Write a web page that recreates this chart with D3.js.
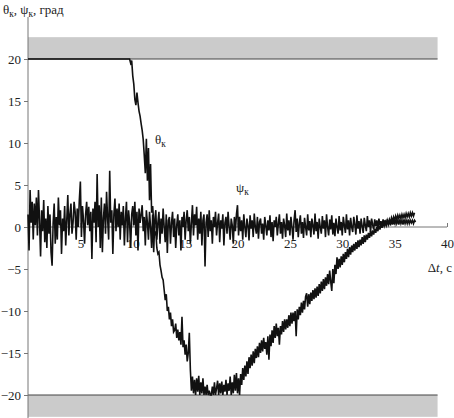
<!DOCTYPE html>
<html>
<head>
<meta charset="utf-8">
<script src="https://cdn.jsdelivr.net/npm/d3@7"></script>
<style>
  html, body { margin: 0; padding: 0; background: #fff; }
</style>
</head>
<body>
<svg id="chart" width="454" height="418" style="font-family: 'DejaVu Serif', serif;"></svg>
<script>
// ---- data ----
const xTicks = [5, 10, 15, 20, 25, 30, 35, 40];
const yTicks = [-20, -15, -10, -5, 0, 5, 10, 15, 20];
const limitBands = [[20, 22.6], [-22.6, -20]];
const bandEnd = 39.1;
const dt = 0.1;
const psiStart = 0;
const psi = [
  1.5, -2.8, 4.4, 0.5, 3.0, -1.5, 2.8, 0.2, 3.5, -1.0,
  4.4, 0.8, -3.5, 2.0, -0.5, 3.2, -1.8, 1.0, -2.5, 2.5,
  -0.8, 1.5, -3.0, -4.6, 0.5, 2.8, -2.0, 1.2, -1.5, 3.5,
  0.2, 2.0, -3.2, 1.0, -0.5, 2.5, -2.2, 0.8, 3.8, -1.0,
  1.5, 2.8, -0.8, 0.5, 3.0, 1.8, -1.5, 2.2, 0.0, 3.2,
  5.4, -1.2, 2.5, 0.8, -2.0, 1.5, 3.0, 0.2, 2.4, -0.5,
  1.8, -3.8, 2.2, 0.5, 3.0, -1.8, 6.3, 0.0, 2.6, -2.5,
  3.5, -3.0, 1.0, 2.8, -0.8, 4.2, 1.0, -1.5, 6.7, 0.5,
  2.0, -3.2, 1.5, 3.4, -0.5, 2.2, 0.0, 2.8, -1.5, 1.8,
  0.2, 2.5, -2.2, 1.0, 3.0, -1.8, 2.0, 0.5, -2.5, 1.5,
  2.5, 0.2, 3.0, -1.0, 1.8, -2.8, 2.2, 0.5, 1.5, 2.6,
  -0.5, 1.2, -2.2, 2.0, 0.5, -1.5, 1.8, 0.0, -2.5, 1.5,
  -3.0, 0.8, 2.0, -1.5, 0.5, 1.8, -2.0, 1.0, -0.8, 2.2,
  0.0, -1.8, 1.5, -3.1, 0.8, 1.2, -2.0, 0.5, 1.8, -1.2,
  1.0, -2.5, 0.2, 1.5, -1.0, 0.8, -2.8, 1.2, 0.0, 1.8,
  -1.5, 0.8, 2.0, -0.5, 1.2, -2.0, 0.5, 2.6, -1.0, 1.5,
  0.2, 2.4, -1.5, 1.0, -0.8, 1.8, -2.2, 0.8, 1.5, -4.7,
  0.5, 1.5, -1.2, 2.0, -0.5, 0.8, -2.0, 1.2, 0.0, 1.8,
  -1.0, 0.5, 1.6, -1.8, 0.8, -0.2, 1.5, -2.2, 0.5, 1.2,
  -0.8, 1.8, 0.0, -1.5, 1.0, 0.2, -2.0, 1.2, -0.5, 1.5,
  2.6, -1.0, 1.2, -0.5, 0.8, -1.5, 1.5, 0.0, -1.2, 1.0,
  0.2, -1.6, 1.4, -0.2, 0.8, -1.2, 1.6, 0.0, -0.8, 1.2,
  -1.4, 0.6, 1.0, -0.8, 0.4, -1.5, 1.2, 0.2, -1.0, 0.8,
  -0.4, 1.4, -1.2, 0.6, -1.7, 0.8, 0.0, 1.2, -1.0, 0.4,
  1.5, -0.8, 0.6, -1.4, 1.0, 0.2, -1.2, 1.6, -0.4, 0.8,
  -1.0, 1.2, 0.0, -1.5, 0.8, 2.0, -0.6, 1.0, -1.2, 0.4,
  1.4, -0.8, 0.6, -1.3, 1.1, 0.0, -1.0, 1.5, -0.4, 0.7,
  -1.2, 1.0, 0.2, -0.9, 1.6, -0.5, 0.6, -1.4, 1.0, 0.0,
  -0.8, 1.3, -0.2, 0.8, -1.2, 1.5, 0.0, -1.0, 0.9, -0.3,
  1.4, -0.9, 0.5, -1.1, 1.0, 0.0, -0.8, 1.3, -0.4, 0.6,
  -1.0, 1.2, 0.2, -0.7, 1.5, -0.3, 0.8, -1.0, 1.1, 0.0,
  -0.6, 1.2, 0.3, -0.9, 1.4, -0.2, 0.7, -0.8, 1.0, 0.1,
  -0.7, 1.1, 0.2, -0.5, 1.3, 0.0, 0.8, -0.6, 1.0, 0.3,
  -0.3, 0.9, 0.1, 0.8, -0.2, 1.0, 0.2, 0.7, 0.0, 0.9,
  0.2, 0.8, 0.1, 0.9, 0.3, 0.7, 0.2, 0.9, 0.3, 0.8,
  0.3, 0.9, 0.4, 0.8, 0.3, 0.9, 0.4, 0.8, 0.3, 0.9,
  0.4, 0.8, 0.4, 0.9, 0.4, 0.8, 0.5, 0.8, 0.4, 0.8,
  0.6
];
const thetaHold = 20;      // value held from t = 0
const thetaStart = 9.6;
const theta = [
  20.0, 20.0, 19.5, 19.8, 18.0, 17.0, 15.2, 14.5, 16.0, 14.8,
  13.8, 13.2, 12.3, 11.5, 10.4, 8.5, 6.4, 10.5, 5.5, 9.4,
  3.2, 7.5, 1.7, 2.5, 0.5, -1.0, -0.5, -2.5, -3.2, -3.0,
  -4.5, -5.2, -6.0, -6.3, -7.5, -8.7, -8.0, -10.0, -9.5, -11.0,
  -10.2, -11.8, -11.0, -12.5, -12.3, -11.5, -13.2, -12.2, -13.5, -12.5,
  -14.0, -10.7, -14.3, -13.5, -15.2, -14.0, -16.0, -15.0, -12.6, -17.0,
  -19.5, -17.8, -19.8, -18.2, -20.0, -18.0, -19.6, -17.7, -20.0, -18.5,
  -19.8, -18.0, -20.0, -19.0, -20.0, -18.8, -20.0, -19.5, -20.0, -20.0,
  -19.0, -20.0, -18.5, -20.0, -19.2, -18.3, -20.0, -18.6, -19.8, -18.4,
  -20.0, -18.8, -19.6, -18.2, -20.0, -18.6, -19.5, -17.8, -20.0, -18.5,
  -19.8, -17.6, -19.5, -17.4, -19.8, -18.0, -20.0, -17.5, -18.8, -16.8,
  -18.2, -16.5, -17.8, -16.0, -17.5, -15.5, -16.8, -15.2, -16.5, -14.8,
  -16.2, -14.5, -15.6, -14.2, -15.5, -13.8, -15.0, -13.5, -14.8, -13.2,
  -14.5, -13.7, -15.2, -13.0, -15.8, -12.8, -14.2, -12.3, -13.8, -11.8,
  -13.2, -11.5, -13.0, -12.0, -14.0, -11.8, -12.8, -11.2, -12.5, -11.0,
  -12.2, -11.0, -12.0, -10.5, -11.8, -10.2, -11.5, -10.2, -11.2, -10.0,
  -13.0, -9.8, -11.0, -9.5, -10.5, -9.0, -10.2, -8.8, -9.8, -8.3,
  -7.9, -9.5, -8.0, -9.2, -7.8, -8.8, -7.5, -8.6, -7.3, -8.4,
  -7.1, -8.2, -6.8, -7.9, -6.5, -7.6, -6.2, -7.4, -6.0, -7.0,
  -5.6, -6.8, -5.2, -6.5, -7.6, -5.0, -6.7, -4.5, -5.6, -3.6,
  -5.0, -3.8, -4.8, -3.5, -4.5, -3.2, -4.2, -3.0, -3.8, -2.6,
  -3.6, -2.4, -3.3, -2.2, -3.0, -2.0, -2.8, -1.8, -2.6, -1.6,
  -2.4, -1.5, -2.2, -1.2, -2.0, -1.0, -1.8, -0.9, -1.5, -0.7,
  -1.3, -0.5, -1.1, -0.4, -0.9, -0.2, -0.7, 0.0, -0.5, 0.2,
  -0.3, 0.4, -0.1, 0.5, 0.1, 0.6, 0.2, 0.8, 0.4, 0.9,
  0.5, 1.1, 0.7, 1.2, 0.8, 1.3, 0.9, 1.4, 1.0, 1.4,
  1.0, 1.5, 1.1, 1.5, 1.1, 1.6, 1.2, 1.6, 1.2, 1.7,
  1.3, 1.7, 1.3, 1.7
];

// ---- chart ----
const FONT = "Liberation Serif";
const svg = d3.select("#chart");
const x = d3.scaleLinear().domain([0, 40]).range([28, 447]);
const y = d3.scaleLinear().domain([-20, 20]).range([395, 59]);

// limit bands
svg.selectAll("rect.band").data(limitBands).enter().append("rect")
  .attr("class", "band")
  .attr("x", x(0)).attr("width", x(bandEnd) - x(0))
  .attr("y", d => y(d[1])).attr("height", d => y(d[0]) - y(d[1]))
  .attr("fill", "#cbcbcb");
svg.selectAll("line.edge").data([20, -20]).enter().append("line")
  .attr("x1", x(0)).attr("x2", x(bandEnd))
  .attr("y1", d => y(d)).attr("y2", d => y(d))
  .attr("stroke", "#444").attr("stroke-width", 1.2);

// y axis
const yAxis = d3.axisLeft(y).tickValues(yTicks).tickSize(4).tickPadding(3)
  .tickFormat(d => d < 0 ? "\u2212" + Math.abs(d) : d);
const gy = svg.append("g").attr("transform", `translate(${x(0)},0)`).call(yAxis)
  .attr("font-family", FONT).attr("font-size", 13);
gy.select(".domain").remove();
gy.append("line").attr("x1", 0).attr("x2", 0).attr("y1", y(25)).attr("y2", 418)
  .attr("stroke", "#777").attr("stroke-width", 1);
gy.selectAll(".tick line").attr("stroke", "#777");
gy.selectAll(".tick text").attr("fill", "#222").style("font-family", FONT);

// x axis at zero
const xAxis = d3.axisBottom(x).tickValues(xTicks).tickSize(-4).tickPadding(12);
const gx = svg.append("g").attr("transform", `translate(0,${y(0)})`).call(xAxis)
  .attr("font-family", FONT).attr("font-size", 13);
gx.select(".domain").attr("stroke", "#777").attr("d", `M${x(0)},0H${x(40)}`);
gx.selectAll(".tick line").attr("stroke", "#777");
gx.selectAll(".tick text").attr("fill", "#222").style("font-family", FONT);

// series
const line = d3.line().x(d => x(d.t)).y(d => y(d.v));
const psiPts = psi.map((v, i) => ({ t: psiStart + i * dt, v }));
const thetaPts = [{ t: 0, v: thetaHold }].concat(theta.map((v, i) => ({ t: thetaStart + i * dt, v })));
svg.append("path").datum(psiPts).attr("d", line)
  .attr("fill", "none").attr("stroke", "#111").attr("stroke-width", 1.6).attr("stroke-linejoin", "miter");
svg.append("path").datum(thetaPts).attr("d", line)
  .attr("fill", "none").attr("stroke", "#111").attr("stroke-width", 1.6).attr("stroke-linejoin", "miter");

// labels
function subLabel(px, py, parts, size) {
  const t = svg.append("text").attr("x", px).attr("y", py).attr("font-size", size)
    .style("font-family", FONT).attr("fill", "#222");
  parts.forEach(p => {
    const s = t.append("tspan").text(p.text);
    if (p.sub) s.attr("font-size", size * 0.72).attr("dy", 3);
    if (p.up) s.attr("dy", -3);
    if (p.italic) s.attr("font-style", "italic");
  });
  return t;
}
subLabel(3, 14, [
  { text: "\u03B8" }, { text: "\u043A", sub: true }, { text: ", \u03C8", up: true },
  { text: "\u043A", sub: true }, { text: ", \u0433\u0440\u0430\u0434", up: true }
], 13);
subLabel(155, 144, [{ text: "\u03B8" }, { text: "\u043A", sub: true }], 13);
subLabel(236, 192, [{ text: "\u03C8" }, { text: "\u043A", sub: true }], 13);
const xl = svg.append("text").attr("x", 452).attr("y", 272).attr("text-anchor", "end")
  .attr("font-size", 13).style("font-family", FONT).attr("fill", "#222");
xl.append("tspan").text("\u0394");
xl.append("tspan").attr("font-style", "italic").text("t");
xl.append("tspan").text(", \u0441");
</script>
</body>
</html>
